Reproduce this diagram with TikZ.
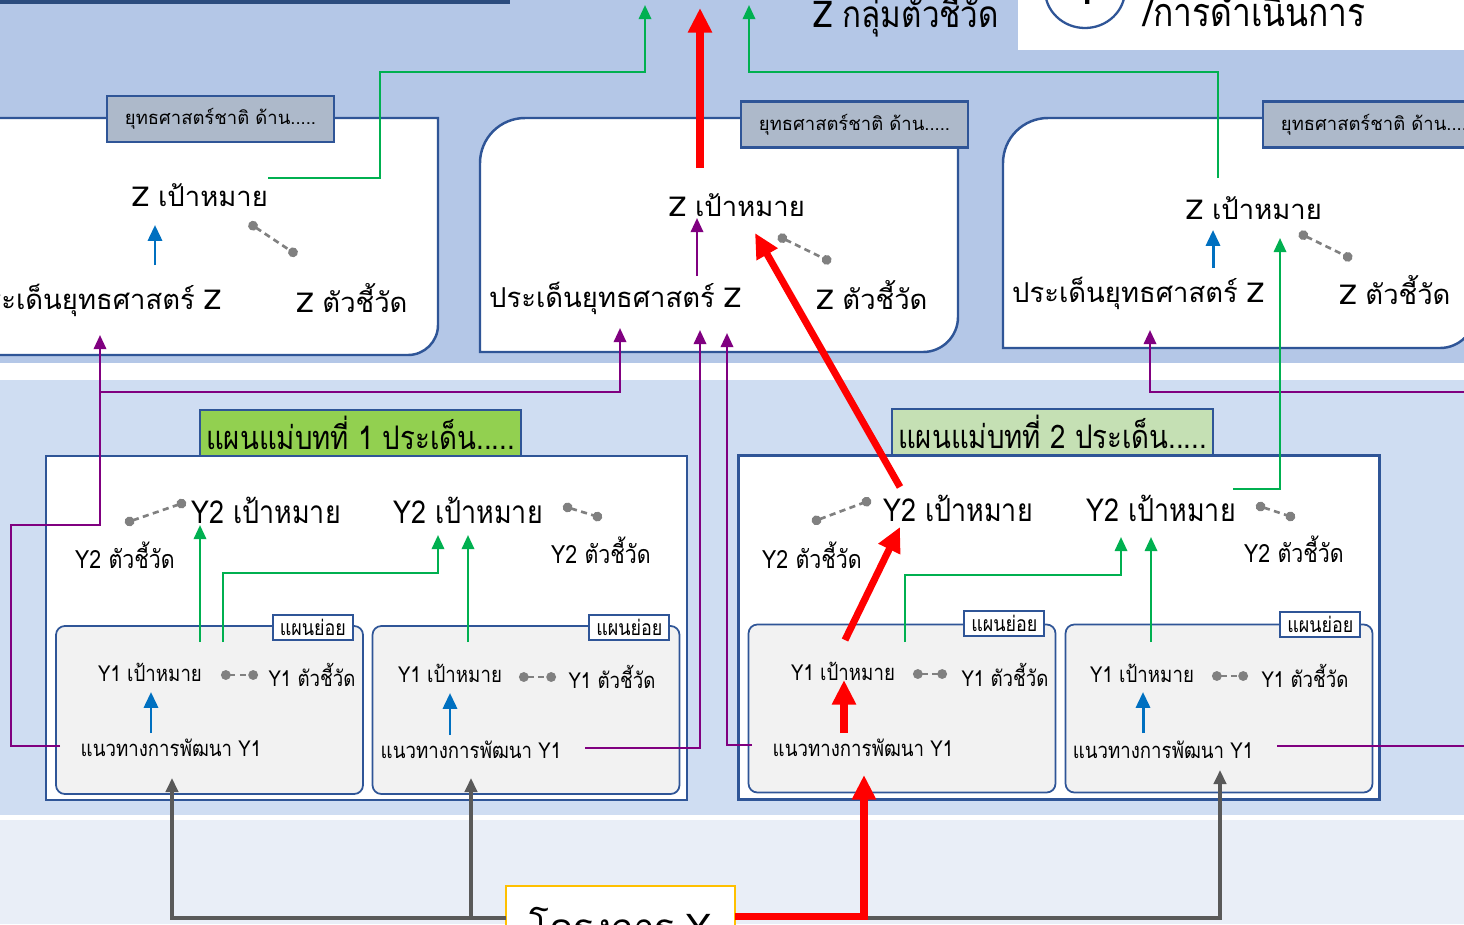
\documentclass[tikz,border=0pt]{standalone}
\usepackage{fontspec}
\usetikzlibrary{arrows.meta,positioning}
\newfontfamily\thai[Script=Thai]{Loma}
\newfontfamily\thain[Script=Thai,FakeStretch=0.85]{Loma}
\definecolor{bgtop}{HTML}{B4C7E7}
\definecolor{bgmid}{HTML}{CFDDF2}
\definecolor{bglow}{HTML}{E9EEF7}
\definecolor{navy}{HTML}{2B4C7E}
\definecolor{boxline}{HTML}{2F5597}
\definecolor{tabgray}{HTML}{ADB9CA}
\definecolor{planA}{HTML}{92D050}
\definecolor{planB}{HTML}{C5E0B4}
\definecolor{subgray}{HTML}{F2F2F2}
\definecolor{arrgreen}{HTML}{00B050}
\definecolor{arrpurple}{HTML}{800080}
\definecolor{arrblue}{HTML}{0070C0}
\definecolor{arrred}{HTML}{FF0000}
\definecolor{arrgray}{HTML}{595959}
\definecolor{dotgray}{HTML}{808080}
\definecolor{projyellow}{HTML}{FFC000}
\tikzset{
  zarea/.style={draw=boxline, fill=white, line width=1.4pt},
  natab/.style={draw=boxline, fill=tabgray, line width=1.3pt, minimum width=4.54cm,
    minimum height=0.92cm, font=\thai\fontsize{10.5}{12}\selectfont},
  plantab/.style={draw=boxline, line width=1.3pt, minimum width=6.42cm,
    minimum height=0.92cm, font=\thain\fontsize{18.5}{20}\selectfont},
  planbox/.style={draw=boxline, fill=white, line width=1.4pt, minimum width=12.82cm,
    minimum height=6.88cm},
  subbox/.style={draw=boxline, fill=subgray, line width=1pt, rounded corners=5pt,
    minimum width=6.14cm, minimum height=3.36cm},
  subtab/.style={draw=boxline, fill=white, line width=1.1pt, minimum width=1.6cm,
    minimum height=0.5cm, inner sep=1pt, font=\thain\fontsize{12}{13}\selectfont},
  ztxt/.style={inner sep=1pt, font=\thai\fontsize{15.6}{18}\selectfont},
  y2txt/.style={inner sep=1pt, font=\thain\fontsize{18}{20}\selectfont},
  y2ind/.style={inner sep=1pt, font=\thain\fontsize{14.3}{16}\selectfont},
  y1txt/.style={inner sep=1pt, font=\thain\fontsize{12.5}{15}\selectfont},
  projbox/.style={draw=projyellow, fill=white, line width=1.5pt, minimum width=4.58cm,
    minimum height=1.52cm, font=\thai\fontsize{21}{24}\selectfont},
  garr/.style={-{Triangle[length=8pt,width=7pt]}, line width=1.4pt, draw=arrgreen},
  parr/.style={-{Triangle[length=8pt,width=7pt]}, line width=1.4pt, draw=arrpurple},
  barr/.style={-{Triangle[length=9pt,width=8pt]}, line width=1.7pt, draw=arrblue},
  rarr/.style={-{Triangle[length=14pt,width=13pt]}, line width=4pt, draw=arrred},
  xarr/.style={-{Triangle[length=8pt,width=7pt]}, line width=2pt, draw=arrgray},
  dlink/.style={{Circle[length=5.5pt]}-{Circle[length=5.5pt]}, line width=1.5pt,
    draw=dotgray, dash pattern=on 3.5pt off 2.5pt}
}
\begin{document}
\begin{tikzpicture}[x=0.02cm, y=-0.02cm]
  \useasboundingbox (0,0) rectangle (1464,924);
  \clip (0,0) rectangle (1464,924);
  % bands
  \fill[bgtop] (0,0) rectangle (1464,363);
  \fill[white] (0,363) rectangle (1464,380);
  \fill[bgmid] (0,380) rectangle (1464,815);
  \fill[white] (0,815) rectangle (1464,820);
  \fill[bglow] (0,820) rectangle (1464,924);
  \fill[navy] (0,0) rectangle (510,3.5);
  \fill[white] (1018,-5) rectangle (1470,50);
  \draw[boxline, line width=1.3pt, fill=white] (1085,-10) ellipse [x radius=40, y radius=38];
  \node[font=\thai\fontsize{28}{30}\selectfont, anchor=base] (num) at (1085,4) {1};
  \node[font=\thain\fontsize{21}{24}\selectfont, anchor=base] (zkpi) at (906,27) {Z กลุ่มตัวชี้วัด};
  \node[font=\thain\fontsize{22.5}{26}\selectfont, anchor=base west, inner sep=0pt] (oper) at (1143,26) {/การดำเนินการ};

  % strategy boxes
  \draw[zarea] (-20,118) -- (438,118) -- (438,325) arc[start angle=0, end angle=90, radius=30] -- (-20,355) -- cycle;
  \draw[zarea] (480,352) -- (480,163) arc[start angle=180, end angle=270, radius=45] -- (958,118)
    -- (958,317) arc[start angle=0, end angle=90, radius=35] -- cycle;
  \draw[zarea] (1003,348) -- (1003,163) arc[start angle=180, end angle=270, radius=45] -- (1475,118)
    -- (1475,313) arc[start angle=0, end angle=90, radius=35] -- cycle;
  \node[natab] (tabL) at (220.5,119) {ยุทธศาสตร์ชาติ ด้าน.....};
  \node[natab] (tabM) at (854.5,124.5) {ยุทธศาสตร์ชาติ ด้าน.....};
  \node[natab] (tabR) at (1376.5,124.5) {ยุทธศาสตร์ชาติ ด้าน.....};

  \node[ztxt] (zgoalL) at (200,195) {Z เป้าหมาย};
  \node[ztxt] (zissueL) at (95,300) {ประเด็นยุทธศาสตร์ Z};
  \node[ztxt] (zindL) at (352,298) {Z ตัวชี้วัด};
  \node[ztxt] (zgoalM) at (737,205) {Z เป้าหมาย};
  \node[ztxt] (zissueM) at (615,298) {ประเด็นยุทธศาสตร์ Z};
  \node[ztxt] (zindM) at (872,295) {Z ตัวชี้วัด};
  \node[ztxt] (zgoalR) at (1254,208) {Z เป้าหมาย};
  \node[ztxt] (zissueR) at (1138,293) {ประเด็นยุทธศาสตร์ Z};
  \node[ztxt] (zindR) at (1395,290) {Z ตัวชี้วัด};

  % master plans
  \node[planbox] (plan1) at (366.5,628) {};
  \node[planbox] (plan2) at (1059,627.5) {};
  \node[plantab, fill=planA] (ptab1) at (360.5,433) {แผนแม่บทที่ 1 ประเด็น.....};
  \node[plantab, fill=planB] (ptab2) at (1052.5,432) {แผนแม่บทที่ 2 ประเด็น.....};

  \node[subbox] (sub1) at (209.5,710) {};
  \node[subbox] (sub2) at (526,710) {};
  \node[subbox] (sub3) at (902,708.5) {};
  \node[subbox] (sub4) at (1219,708.5) {};
  \node[subtab, anchor=east] (stab1) at ([shift={(-10,2)}]sub1.north east) {แผนย่อย};
  \node[subtab, anchor=east] (stab2) at ([shift={(-10,2)}]sub2.north east) {แผนย่อย};
  \node[subtab, anchor=east] (stab3) at ([shift={(-11,0)}]sub3.north east) {แผนย่อย};
  \node[subtab, anchor=east] (stab4) at ([shift={(-12,1)}]sub4.north east) {แผนย่อย};

  \node[y2txt] (y2L1) at (266,510) {Y2 เป้าหมาย};
  \node[y2txt] (y2L2) at (468,510) {Y2 เป้าหมาย};
  \node[y2txt] (y2R1) at (958,508) {Y2 เป้าหมาย};
  \node[y2txt] (y2R2) at (1161,508) {Y2 เป้าหมาย};
  \node[y2ind] (kL1) at (125,555) {Y2 ตัวชี้วัด};
  \node[y2ind] (kL2) at (601,550) {Y2 ตัวชี้วัด};
  \node[y2ind] (kR1) at (812,555) {Y2 ตัวชี้วัด};
  \node[y2ind] (kR2) at (1294,549) {Y2 ตัวชี้วัด};

  \node[y1txt] (g1) at (150,672) {Y1 เป้าหมาย};
  \node[y1txt] (g2) at (450,673) {Y1 เป้าหมาย};
  \node[y1txt] (g3) at (843,671) {Y1 เป้าหมาย};
  \node[y1txt] (g4) at (1142,673) {Y1 เป้าหมาย};
  \node[y1txt] (i1) at (312,675) {Y1 ตัวชี้วัด};
  \node[y1txt] (i2) at (612,677) {Y1 ตัวชี้วัด};
  \node[y1txt] (i3) at (1005,675) {Y1 ตัวชี้วัด};
  \node[y1txt] (i4) at (1305,676) {Y1 ตัวชี้วัด};
  \node[y1txt] (d1) at (171,748) {แนวทางการพัฒนา Y1};
  \node[y1txt] (d2) at (471,750) {แนวทางการพัฒนา Y1};
  \node[y1txt] (d3) at (863,748) {แนวทางการพัฒนา Y1};
  \node[y1txt] (d4) at (1163,750) {แนวทางการพัฒนา Y1};

  \node[projbox] (proj) at (620.5,924) {โครงการ Y};

  \coordinate (outL) at (645,5);
  \coordinate (outM) at (700,8);
  \coordinate (outR) at (749,5);
  \coordinate (pjoin) at (100,392);
  \coordinate (xjoin) at (471,918);

  % links inside strategy boxes
  \draw[barr] ([shift={(60,-35)}]zissueL.center) -- ([shift={(-45,30)}]zgoalL.center);
  \draw[barr] ([shift={(75,-25)}]zissueR.center) -- ([shift={(-41,22)}]zgoalR.center);
  \draw[parr] ([shift={(82,-22)}]zissueM.center) -- ([shift={(-40,13)}]zgoalM.center);
  \draw[dlink] ([shift={(49,28)}]zgoalL.center) -- ([shift={(-55,-43)}]zindL.center);
  \draw[dlink] ([shift={(41,31)}]zgoalM.center) -- ([shift={(-41,-33)}]zindM.center);
  \draw[dlink] ([shift={(45,25)}]zgoalR.center) -- ([shift={(-43,-31)}]zindR.center);
  \draw[garr] ([shift={(68,-17)}]zgoalL.center) -| (380,72) -| (outL);
  \draw[garr] ([shift={(-36,-30)}]zgoalR.center) |- (749,72) -- (outR);

  % purple: development lines to strategy issues
  \draw[parr] ([shift={(-111,-2)}]d1.center) -| (11,525) -| ([shift={(5,35)}]zissueL.center);
  \draw[parr] (pjoin) -| ([shift={(5,30)}]zissueM.center);
  \draw[parr] ([shift={(114,-2)}]d2.center) -| ([shift={(85,32)}]zissueM.center);
  \draw[parr] ([shift={(-111,-3)}]d3.center) -| ([shift={(112,35)}]zissueM.center);
  \draw[parr] ([shift={(114,-4)}]d4.center) -| (1475,392) -| ([shift={(12,37)}]zissueR.center);

  % inside master plans
  \draw[garr] ([shift={(50,-30)}]g1.center) -- ([shift={(-66,15)}]y2L1.center);
  \draw[garr] ([shift={(73,-30)}]g1.center) |- ([shift={(-30,63)}]y2L2.center) -- ([shift={(-30,25)}]y2L2.center);
  \draw[garr] ([shift={(18,-31)}]g2.center) -- ([shift={(0,25)}]y2L2.center);
  \draw[garr] ([shift={(62,-29)}]g3.center) |- ([shift={(-40,67)}]y2R2.center) -- ([shift={(-40,29)}]y2R2.center);
  \draw[garr] ([shift={(9,-31)}]g4.center) -- ([shift={(-10,29)}]y2R2.center);
  \draw[garr] ([shift={(72,-19)}]y2R2.center) -| ([shift={(26,30)}]zgoalR.center);
  \draw[barr] ([shift={(-20,-15)}]d1.center) -- ([shift={(1,20)}]g1.center);
  \draw[barr] ([shift={(-21,-15)}]d2.center) -- ([shift={(0,20)}]g2.center);
  \draw[barr] ([shift={(-20,-17)}]d4.center) -- ([shift={(1,19)}]g4.center);
  \draw[dlink] ([shift={(0,-32)}]kL1.center) -- ([shift={(-80,-8)}]y2L1.center);
  \draw[dlink] ([shift={(95,-4)}]y2L2.center) -- ([shift={(1,-32)}]kL2.center);
  \draw[dlink] ([shift={(0,-33)}]kR1.center) -- ([shift={(-87,-8)}]y2R1.center);
  \draw[dlink] ([shift={(95,-3)}]y2R2.center) -- ([shift={(1,-31)}]kR2.center);
  \draw[dlink] ([shift={(71,3)}]g1.center) -- ([shift={(-54,0)}]i1.center);
  \draw[dlink] ([shift={(69,4)}]g2.center) -- ([shift={(-56,0)}]i2.center);
  \draw[dlink] ([shift={(70,3)}]g3.center) -- ([shift={(-58,-1)}]i3.center);
  \draw[dlink] ([shift={(70,3)}]g4.center) -- ([shift={(-57,0)}]i4.center);

  % project
  \draw[xarr] ([shift={(-114.5,-6)}]proj.center) -| ([shift={(1,30)}]d1.center);
  \draw[xarr] (xjoin) -- ([shift={(0,28)}]d2.center);
  \draw[xarr] ([shift={(114.5,-6)}]proj.center) -| ([shift={(57,20)}]d4.center);

  % red path
  \draw[rarr] ([shift={(114.5,-8)}]proj.center) -| ([shift={(1,27)}]d3.center);
  \draw[rarr] ([shift={(-19,-15)}]d3.center) -- ([shift={(1,9)}]g3.center);
  \draw[rarr] ([shift={(2,-31)}]g3.center) -- ([shift={(-58,19)}]y2R1.center);
  \draw[rarr] ([shift={(-58,-21)}]y2R1.center) -- ([shift={(18,28)}]zgoalM.center);
  \draw[rarr] ([shift={(-37,-37)}]zgoalM.center) -- (outM);
\end{tikzpicture}
\end{document}
